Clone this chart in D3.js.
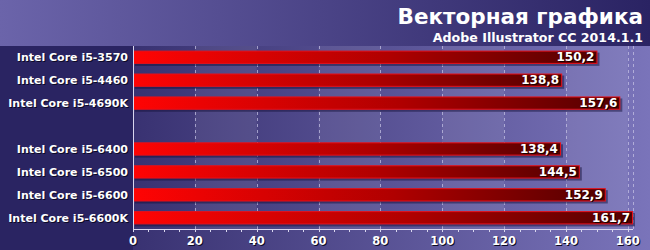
<!DOCTYPE html>
<html><head><meta charset="utf-8">
<script src="https://cdn.jsdelivr.net/npm/d3@7"></script>
<style>html,body{margin:0;padding:0;background:#2a2462;overflow:hidden}svg{display:block}</style>
</head><body>
<svg id="c" width="650" height="250"></svg>
<script>
const title = "Векторная графика";
const subtitle = "Adobe Illustrator CC 2014.1.1";
const categories = ["Intel Core i5-3570","Intel Core i5-4460","Intel Core i5-4690K","","Intel Core i5-6400","Intel Core i5-6500","Intel Core i5-6600","Intel Core i5-6600K"];
const values = [150.2,138.8,157.6,null,138.4,144.5,152.9,161.7];
const xTicks = [0,20,40,60,80,100,120,140,160];
const xDomainMax = 161.7;

const W=650,H=250;
const m={left:133,right:17,top:46,bottom:21};
const svg=d3.select("#c");
const defs=svg.append("defs");

function lg(id,stops,x2="100%",y2="0%"){
  const g=defs.append("linearGradient").attr("id",id).attr("x1","0%").attr("y1","0%").attr("x2",x2).attr("y2",y2);
  stops.forEach(s=>g.append("stop").attr("offset",s[0]).attr("stop-color",s[1]));
}
lg("hdr",[["0%","#6b64aa"],["100%","#2a2363"]]);
lg("plot",[["0%","#28215f"],["100%","#7a74ba"]]);
lg("bar",[["0%","#ff0404"],["55%","#b00000"],["100%","#520000"]]);

const slots=categories.map((c,i)=>"s"+i);
const x=d3.scaleLinear().domain([0,xDomainMax]).range([m.left,W-m.right]);
const y=d3.scaleBand().domain(slots).range([m.top,H-m.bottom]).paddingInner(0.42).paddingOuter(0.2);

// backgrounds
svg.append("rect").attr("width",W).attr("height",H).attr("fill","url(#plot)");
svg.append("rect").attr("width",m.left).attr("height",H).attr("fill","#2a2462");
svg.append("rect").attr("width",W).attr("height",m.top).attr("fill","url(#hdr)");

// alternating bands
const bandPairs=d3.pairs(xTicks).filter((p,i)=>i%2===1);
svg.append("g").selectAll("rect").data(bandPairs).join("rect")
  .attr("x",d=>x(d[0])).attr("width",d=>x(d[1])-x(d[0]))
  .attr("y",m.top).attr("height",H-m.bottom-m.top)
  .attr("fill","#ffffff").attr("opacity",0.07);

// grid
svg.append("g").selectAll("line").data(xTicks.slice(1).concat([xDomainMax])).join("line")
  .attr("x1",d=>Math.round(x(d))+0.5).attr("x2",d=>Math.round(x(d))+0.5)
  .attr("y1",m.top).attr("y2",H-m.bottom)
  .attr("stroke","#c8c4e6").attr("stroke-opacity",0.7).attr("stroke-dasharray","3,3");

// bars
const data=categories.map((c,i)=>({c,v:values[i],s:slots[i]})).filter(d=>d.v!=null);
const bars=svg.append("g");
bars.selectAll("rect.sh").data(data).join("rect").attr("class","sh")
  .attr("x",x(0)+2).attr("y",d=>y(d.s)+2).attr("width",d=>x(d.v)-x(0)).attr("height",y.bandwidth())
  .attr("fill","#14103a").attr("opacity",0.5);
bars.selectAll("rect.b").data(data).join("rect").attr("class","b")
  .attr("x",x(0)+0.5).attr("y",d=>y(d.s)+0.5).attr("width",d=>x(d.v)-x(0)-1).attr("height",y.bandwidth()-1)
  .attr("fill","url(#bar)").attr("stroke","#e8101a").attr("stroke-width",1);

// value labels
const vf=d=>d3.format(".1f")(d).replace(".",",");
const vl=svg.append("g").attr("font-family","DejaVu Sans, sans-serif").attr("font-weight","bold").attr("font-size","12px").attr("text-anchor","end");
vl.selectAll("text.s").data(data).join("text").attr("class","s")
  .attr("x",d=>x(d.v)-3+1).attr("y",d=>y(d.s)+y.bandwidth()/2+4+1).attr("fill","#1a0000").text(d=>vf(d.v));
vl.selectAll("text.t").data(data).join("text").attr("class","t")
  .attr("x",d=>x(d.v)-3).attr("y",d=>y(d.s)+y.bandwidth()/2+4).attr("fill","#ffffff").text(d=>vf(d.v));

// category labels
const cl=svg.append("g").attr("font-family","DejaVu Sans, sans-serif").attr("font-weight","bold").attr("font-size","11px").attr("text-anchor","end");
const cdat=categories.map((c,i)=>({c,s:slots[i]})).filter(d=>d.c);
cl.selectAll("text.s").data(cdat).join("text").attr("class","s")
  .attr("x",m.left-5+1).attr("y",d=>y(d.s)+y.bandwidth()/2+4+1).attr("fill","#0c0a26").text(d=>d.c);
cl.selectAll("text.t").data(cdat).join("text").attr("class","t")
  .attr("x",m.left-5).attr("y",d=>y(d.s)+y.bandwidth()/2+4).attr("fill","#ffffff").text(d=>d.c);

// axes lines
svg.append("line").attr("x1",m.left+0.5).attr("x2",m.left+0.5).attr("y1",m.top).attr("y2",H-m.bottom+1)
  .attr("stroke","#d8d6ee");
const ax=svg.append("g").attr("transform",`translate(0,${H-m.bottom})`);
ax.append("line").attr("x1",m.left).attr("x2",W-m.right).attr("y1",0.5).attr("y2",0.5).attr("stroke","#d8d6ee");
const minor=d3.range(0,xDomainMax,5);
ax.selectAll("line.mt").data(minor).join("line").attr("class","mt")
  .attr("x1",d=>Math.round(x(d))+0.5).attr("x2",d=>Math.round(x(d))+0.5).attr("y1",0).attr("y2",3)
  .attr("stroke","#d8d6ee");
const tl=ax.append("g").attr("font-family","DejaVu Sans, sans-serif").attr("font-weight","bold").attr("font-size","11.5px").attr("text-anchor","middle");
tl.selectAll("text.s").data(xTicks).join("text").attr("class","s").attr("x",d=>x(d)+1).attr("y",17).attr("fill","#0c0a26").text(d=>d);
tl.selectAll("text.t").data(xTicks).join("text").attr("class","t").attr("x",d=>x(d)).attr("y",16).attr("fill","#ffffff").text(d=>d);

// titles
const tg=svg.append("g").attr("font-family","DejaVu Sans, sans-serif").attr("font-weight","bold").attr("text-anchor","end").attr("fill","#ffffff");
tg.append("text").attr("x",643).attr("y",24).attr("font-size","21.5px").text(title);
tg.append("text").attr("x",643).attr("y",42).attr("font-size","12.6px").text(subtitle);
</script>
</body></html>
